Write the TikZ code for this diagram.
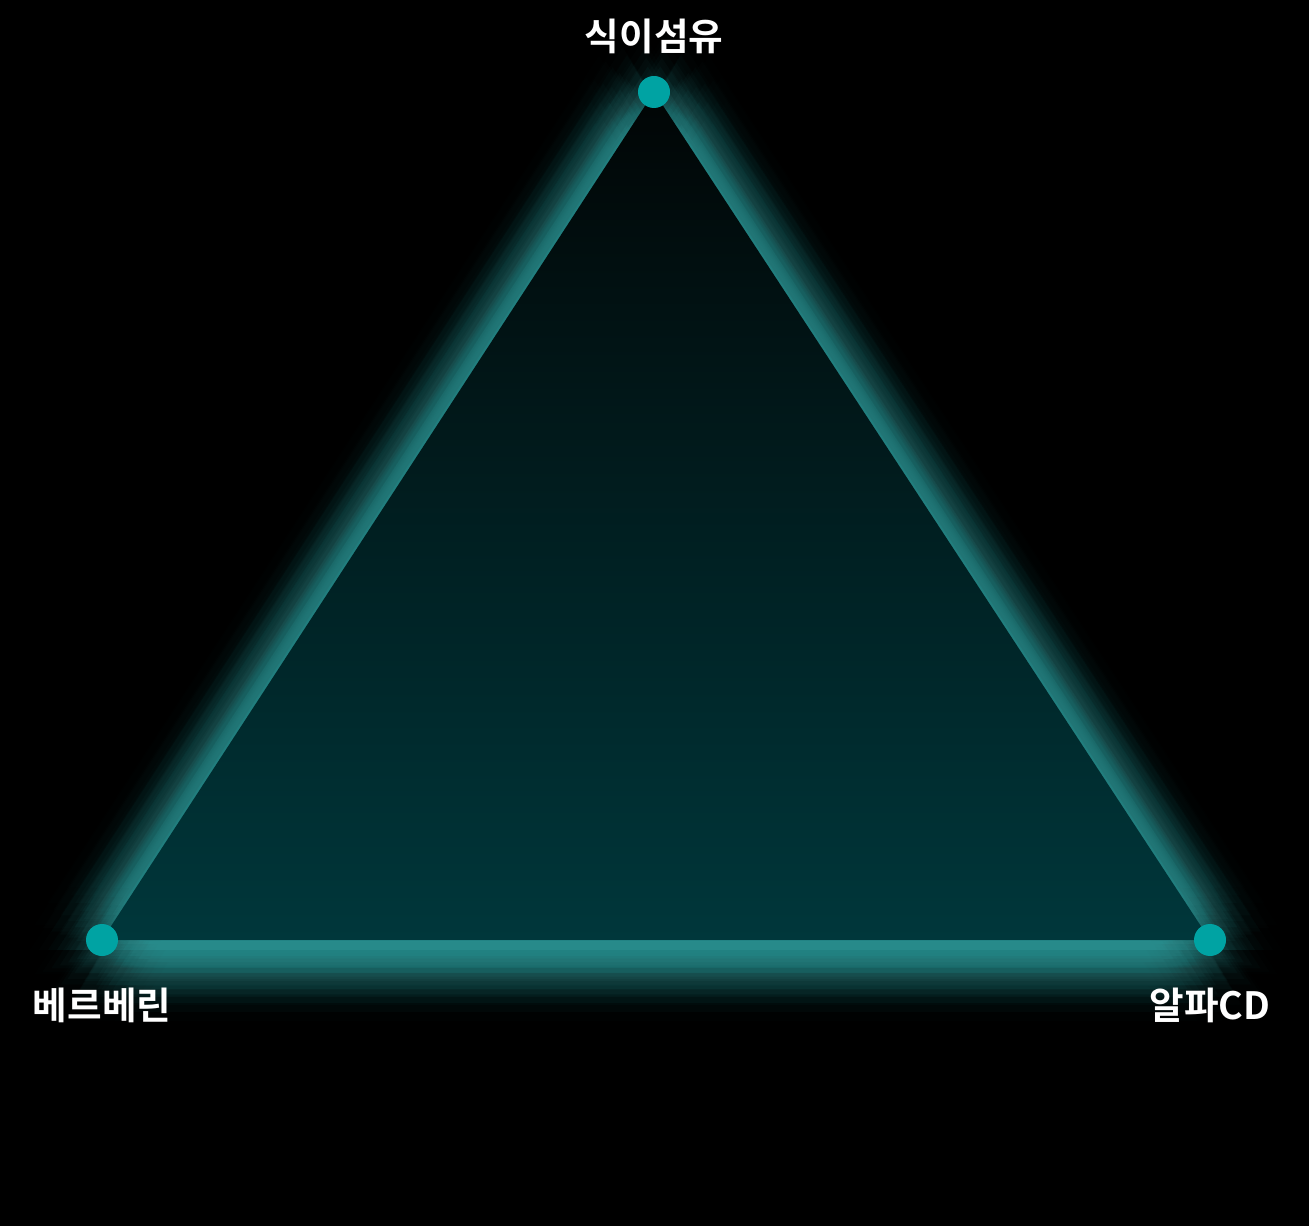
\documentclass[tikz,border=0pt]{standalone}
\usepackage{fontspec}
\setmainfont{Noto Sans CJK KR}[BoldFont={Noto Sans CJK KR Bold}]
\usetikzlibrary{positioning}
\definecolor{teal1}{HTML}{00A3A3}
\definecolor{glowc}{HTML}{40B4B4}
\definecolor{topc}{HTML}{010505}
\definecolor{botc}{HTML}{00373B}
\begin{document}
\begin{tikzpicture}[node distance=.42cm,
  dot/.style={circle,fill=teal1,minimum size=.64cm,inner sep=0pt},
  tag/.style={text=white,font=\bfseries\fontsize{21.4}{24}\selectfont,inner sep=0pt},
  glow/.style={fill=glowc}]
\fill[black] (0,0) rectangle (26.18,-24.52);
\useasboundingbox (0,0) rectangle (26.18,-24.52);
\coordinate (fiber) at (13.08,-1.84);
\coordinate (berb) at (2.04,-18.8);
\coordinate (acd) at (24.2,-18.8);
% glow: shifted copies of the triangle
\foreach \r/\o in {0.18/.018,0.36/.032,0.54/.038,0.72/.038,0.9/.030,1.08/.023,1.26/.015,1.44/.009,1.62/.0045,1.8/.003}
  \foreach \a in {0,20,...,340}
    \fill[glow, opacity=\o] ([shift={(\a:\r)},yshift=-.2cm]fiber) -- ([shift={(\a:\r)},yshift=-.2cm]berb) -- ([shift={(\a:\r)},yshift=-.2cm]acd) -- cycle;
\shade[top color=topc, bottom color=botc] (fiber) -- (berb) -- (acd) -- cycle;
\node[dot] (v1) at (fiber) {};
\node[dot] (v2) at (berb) {};
\node[dot] (v3) at (acd) {};
\node[tag, above=of v1] (l1) {식이섬유};
\node[tag, below=.62cm of v2] (l2) {베르베린};
\node[tag, below=.62cm of v3] (l3) {알파CD};
\end{tikzpicture}
\end{document}
